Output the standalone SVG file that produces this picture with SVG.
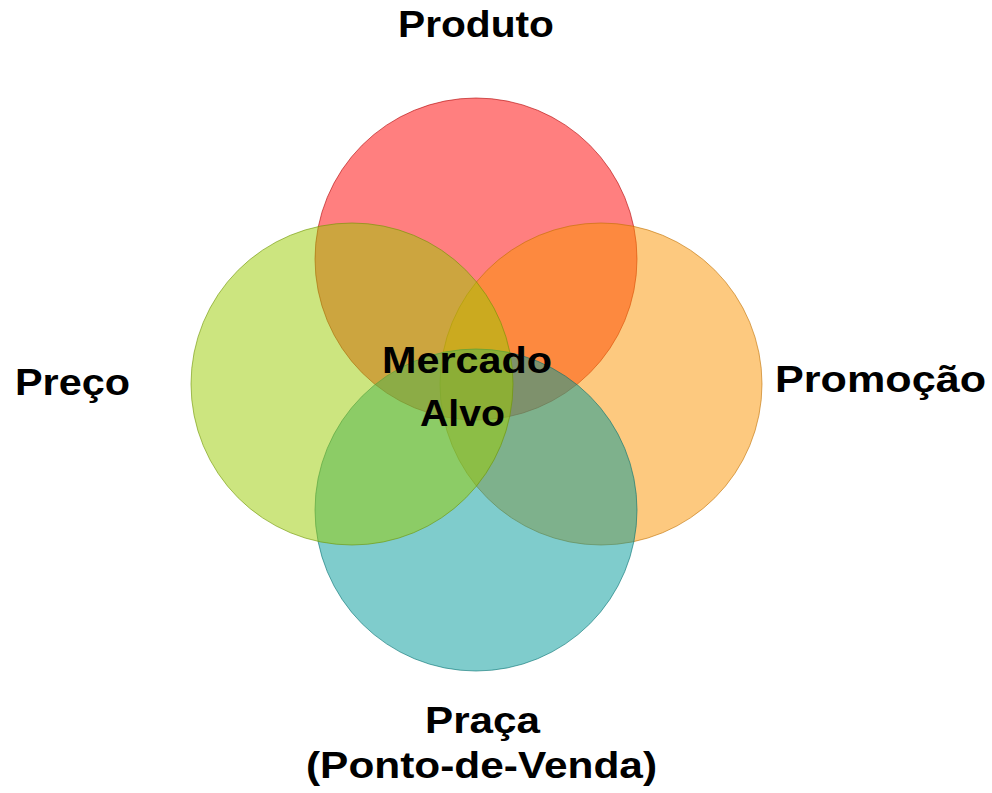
<svg xmlns="http://www.w3.org/2000/svg" width="992" height="793" viewBox="0 0 992 793">
  <style>
    .c { fill-opacity: 0.5; stroke-opacity: 0.6; stroke-width: 1; }
    .t { font-family: "Liberation Sans", Arial, sans-serif; font-weight: bold; font-size: 36px; fill: #000; }
  </style>
  <rect width="992" height="793" fill="#fff"/>
  <g id="produto">
    <circle class="c" cx="476" cy="259" r="161" fill="#FF0000" stroke="#B00000"/>
    <text class="t" x="398" y="37" textLength="156" lengthAdjust="spacingAndGlyphs">Produto</text>
  </g>
  <g id="promocao">
    <circle class="c" cx="601" cy="384" r="161" fill="#FB9300" stroke="#C07000"/>
    <text class="t" x="775" y="392" textLength="211" lengthAdjust="spacingAndGlyphs">Promoção</text>
  </g>
  <g id="praca">
    <circle class="c" cx="476" cy="510" r="161" fill="#009999" stroke="#006F6F"/>
    <text class="t" x="425" y="733" textLength="115" lengthAdjust="spacingAndGlyphs">Praça</text>
    <text class="t" x="306" y="778" textLength="351" lengthAdjust="spacingAndGlyphs">(Ponto-de-Venda)</text>
  </g>
  <g id="preco">
    <circle class="c" cx="352" cy="384" r="161" fill="#99CC00" stroke="#6E9400"/>
    <text class="t" x="15" y="395" textLength="115" lengthAdjust="spacingAndGlyphs">Preço</text>
  </g>
  <g id="mercado-alvo">
    <text class="t" x="382" y="373" textLength="170" lengthAdjust="spacingAndGlyphs">Mercado</text>
    <text class="t" x="420" y="426" textLength="85" lengthAdjust="spacingAndGlyphs">Alvo</text>
  </g>
  <g id="connectors"/>
</svg>
